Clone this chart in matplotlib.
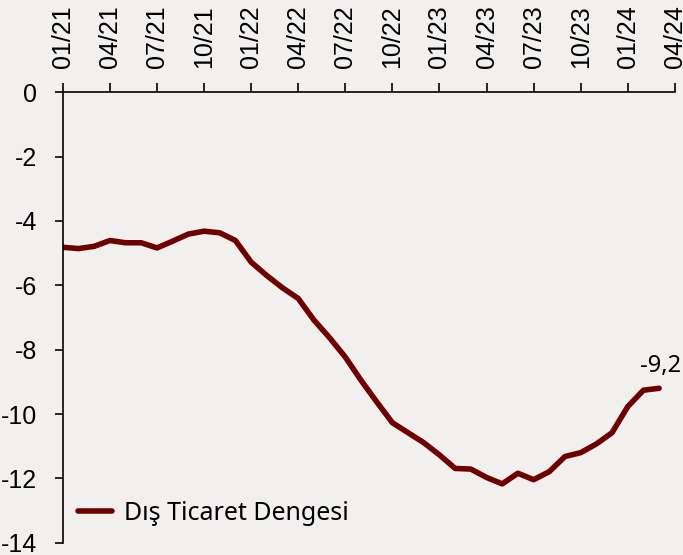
import numpy as np
import matplotlib.pyplot as plt

plt.rcParams['font.family'] = ['Liberation Sans', 'DejaVu Sans']
plt.rcParams['axes.unicode_minus'] = False

###### dados ######
meses = ['01/21', '04/21', '07/21', '10/21', '01/22', '04/22', '07/22', '10/22',
         '01/23', '04/23', '07/23', '10/23', '01/24', '04/24']
dis_ticaret = [-4.82, -4.86, -4.79, -4.61, -4.68, -4.68, -4.84, -4.63, -4.41, -4.32,
               -4.37, -4.61, -5.28, -5.70, -6.08, -6.41, -7.08, -7.63, -8.23, -8.95,
               -9.62, -10.27, -10.58, -10.89, -11.27, -11.69, -11.71, -11.97, -12.17, -11.84,
               -12.04, -11.79, -11.32, -11.20, -10.93, -10.58, -9.77, -9.26, -9.20]
rotulo_final = '-9,2'

cor = '#6e0000'
fundo = '#f2f0ef'
fonte_texto = ['Noto Sans', 'DejaVu Sans']

###### grafico ######
fig = plt.figure(figsize=(6.83, 5.55), dpi=100, facecolor=fundo)
ax = fig.add_axes([0.092, 0.022, 0.896, 0.812], facecolor=fundo)

x = np.arange(len(dis_ticaret))
ax.plot(x, dis_ticaret, color=cor, linewidth=4, solid_capstyle='round',
        label='Dış Ticaret Dengesi')
ax.annotate(rotulo_final, (x[-1], dis_ticaret[-1]), xytext=(1, 12),
            textcoords='offset points', ha='center', va='baseline', fontsize=17,
            family=fonte_texto)

ax.set_xlim(0, 39)
ax.set_ylim(-14, 0)
ax.set_xticks(np.arange(0, 40, 3))
ax.set_xticklabels(meses, rotation=90)
ax.set_yticks(np.arange(-14, 1, 2))
ax.xaxis.tick_top()
ax.tick_params(axis='x', direction='out', length=6.5, width=1.2, labelsize=18, pad=11)
ax.tick_params(axis='y', direction='out', length=5.5, width=1.2, labelsize=18, pad=13)

ax.spines['right'].set_visible(False)
ax.spines['bottom'].set_visible(False)
ax.spines['top'].set_linewidth(1.2)
ax.spines['left'].set_linewidth(1.2)

ax.legend(loc='lower left', bbox_to_anchor=(-0.012, -0.012), frameon=False,
          prop={'family': fonte_texto, 'size': 18},
          handlelength=1.35, handletextpad=0.5)

plt.savefig('out.png', dpi=100, facecolor=fundo)
